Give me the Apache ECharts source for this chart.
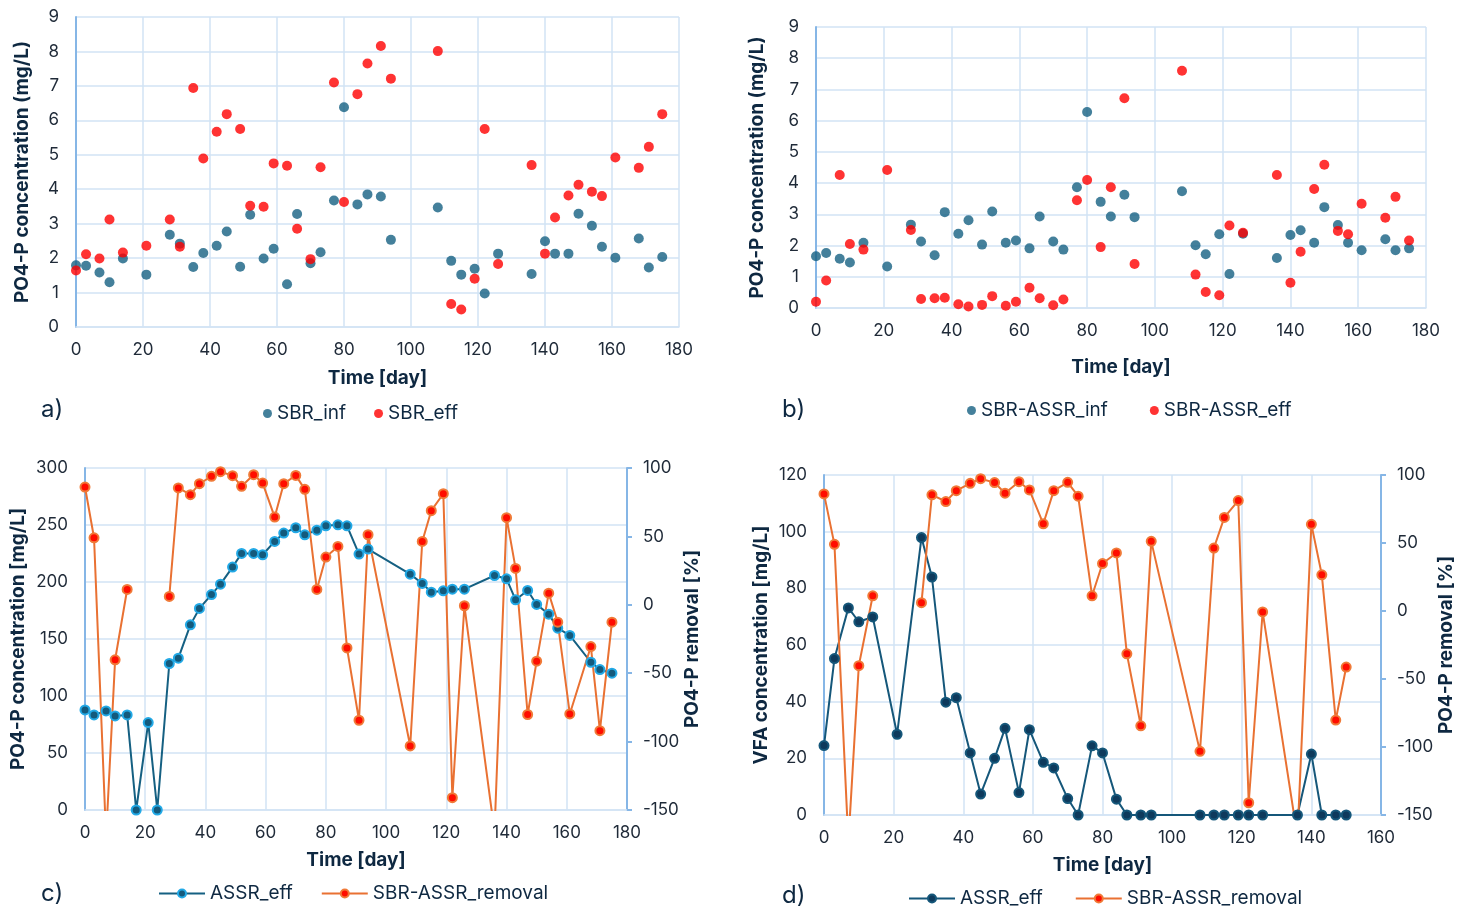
<!DOCTYPE html>
<html>
<head>
<meta charset="utf-8">
<title>PO4-P and VFA over time</title>
<script src="https://cdn.jsdelivr.net/npm/echarts@6/dist/echarts.min.js"></script>
<style>
  html, body { margin: 0; padding: 0; background: #ffffff; }
  .panel { position: absolute; left: 0; top: 0; width: 1464px; height: 906px; }
</style>
</head>
<body>
<div id="panelA" class="panel"></div>
<div id="panelB" class="panel"></div>
<div id="panelC" class="panel"></div>
<div id="panelD" class="panel"></div>
<script>
// sampling days used in a) and b)
const sampleDays = [0, 3, 7, 10, 14, 21, 28, 31, 35, 38, 42, 45, 49, 52, 56, 59, 63, 66, 70, 73,
  77, 80, 84, 87, 91, 94, 108, 112, 115, 119, 122, 126, 136, 140, 143, 147, 150, 154, 157, 161,
  168, 171, 175];
const sbrInf = [1.79, 1.78, 1.58, 1.30, 1.99, 1.52, 2.68, 2.42, 1.74, 2.15, 2.36, 2.77, 1.75, 3.26,
  1.99, 2.27, 1.24, 3.28, 1.85, 2.17, 3.67, 6.38, 3.56, 3.85, 3.79, 2.53, 3.47, 1.92, 1.52, 1.69,
  0.97, 2.13, 1.54, 2.49, 2.13, 2.13, 3.29, 2.94, 2.33, 2.01, 2.57, 1.73, 2.03];
const sbrEff = [1.64, 2.11, 1.99, 3.12, 2.16, 2.36, 3.12, 2.33, 6.94, 4.89, 5.67, 6.18, 5.75, 3.52,
  3.49, 4.75, 4.68, 2.85, 1.97, 4.64, 7.10, 3.63, 6.76, 7.65, 8.16, 7.21, 8.01, 0.67, 0.51, 1.40,
  5.75, 1.83, 4.70, 2.13, 3.18, 3.82, 4.13, 3.93, 3.80, 4.92, 4.62, 5.23, 6.18];
const sbrAssrInf = [1.66, 1.76, 1.58, 1.46, 2.09, 1.33, 2.67, 2.13, 1.69, 3.07, 2.38, 2.81, 2.03,
  3.09, 2.09, 2.16, 1.91, 2.93, 2.13, 1.87, 3.87, 6.28, 3.40, 2.93, 3.63, 2.91, 3.74, 2.01, 1.72,
  2.36, 1.09, 2.38, 1.60, 2.34, 2.49, 2.09, 3.23, 2.66, 2.09, 1.85, 2.20, 1.85, 1.91];
const sbrAssrEff = [0.20, 0.88, 4.26, 2.05, 1.87, 4.42, 2.50, 0.29, 0.31, 0.33, 0.12, 0.05, 0.10,
  0.38, 0.07, 0.20, 0.65, 0.31, 0.09, 0.27, 3.45, 4.10, 1.95, 3.87, 6.72, 1.41, 7.60, 1.07, 0.51,
  0.41, 2.64, 2.41, 4.26, 0.81, 1.80, 3.81, 4.59, 2.47, 2.36, 3.34, 2.89, 3.56, 2.16];

// c) ASSR effluent PO4-P and removal (null = no value, line is broken)
const assrDays = [0, 3, 7, 10, 14, 17, 21, 24, 28, 31, 35, 38, 42, 45, 49, 52, 56, 59, 63, 66, 70,
  73, 77, 80, 84, 87, 91, 94, 108, 112, 115, 119, 122, 126, 136, 140, 143, 147, 150, 154, 157,
  161, 168, 171, 175];
const assrPo4 = [87.8, 83.4, 86.9, 82.5, 83.4, 0, 76.7, 0, 128.5, 133.2, 162.4, 176.8, 189, 198.1,
  213.1, 225.1, 225.1, 223.9, 235.6, 242.9, 247.6, 241.4, 245.5, 249.3, 250.2, 249.3, 224.5, 228.9,
  206.9, 198.7, 191.1, 192.3, 193.7, 193.7, 205.7, 202.8, 184.4, 192.6, 180.3, 171.8, 159.5, 153.1,
  129.6, 123.2, 120];
const removal = [86.1, 49.0, -170, -40.2, 11.2, null, null, null, 6.1, 85.4, 80.5, 88.5, 93.9, 97.3,
  94.4, 86.6, 95.1, 89.0, 64.1, 88.5, 94.6, 84.4, 11.2, 34.9, 42.7, -31.5, -84.4, 51.2, -103.2,
  46.3, 68.8, 81.2, -141, -0.7, -166, 63.7, 26.6, -80.2, -41.2, 8.5, -12.7, -79.8, -30.5, -92,
  -12.7];

// d) ASSR effluent VFA
const vfaDays = [0, 3, 7, 10, 14, 21, 28, 31, 35, 38, 42, 45, 49, 52, 56, 59, 63, 66, 70, 73, 77,
  80, 84, 87, 91, 94, 108, 112, 115, 119, 122, 126, 136, 140, 143, 147, 150];
const vfaEff = [24.5, 55.2, 73.1, 68.2, 69.9, 28.5, 97.9, 84.0, 39.8, 41.4, 21.9, 7.4, 20, 30.6, 7.9,
  30.1, 18.6, 16.6, 5.8, 0, 24.4, 21.9, 5.6, 0, 0, 0, 0, 0, 0, 0, 0, 0, 0, 21.5, 0, 0, 0];

const FONT = 'Inter, "Open Sans", sans-serif';
const TEXT = '#0e2841';
const TICK = '#1f2a38';
const GRID_LINE = '#d2e3f5';
const AXIS_LINE = '#86b6e6';

function pairs(xs, ys, maxX) {
  const out = [];
  xs.forEach((x, i) => {
    if (maxX !== undefined && x > maxX) return;
    out.push([x, ys[i] === null ? '-' : ys[i]]);
  });
  return out;
}

function timeAxis(max, gap) {
  return {
    type: 'value', min: 0, max: max, interval: 20,
    name: 'Time [day]', nameLocation: 'middle', nameGap: gap,
    nameTextStyle: { fontFamily: FONT, fontSize: 19, fontWeight: 'bold', color: TEXT },
    axisLine: { onZero: false, lineStyle: { color: GRID_LINE, width: 1.5 } },
    axisTick: { show: false },
    axisLabel: { margin: 14, fontFamily: FONT, fontSize: 17, color: TICK },
    splitLine: { lineStyle: { color: GRID_LINE, width: 1.5 } }
  };
}

function valueAxis(name, min, max, interval, gap, right) {
  return {
    type: 'value', min: min, max: max, interval: interval,
    position: right ? 'right' : 'left',
    name: name, nameLocation: 'middle', nameGap: gap, nameRotate: 90,
    nameTextStyle: { fontFamily: FONT, fontSize: 19, fontWeight: 'bold', color: TEXT },
    axisLine: { show: true, lineStyle: { color: AXIS_LINE, width: 2 } },
    axisTick: { show: !!right, length: 5, lineStyle: { color: AXIS_LINE, width: 2 } },
    axisLabel: { margin: right ? 16 : 17, fontFamily: FONT, fontSize: 17, color: TICK },
    splitLine: { show: !right, lineStyle: { color: GRID_LINE, width: 1.5 } }
  };
}

function panelLabel(text, left, top) {
  return { text: text, left: left, top: top,
    textStyle: { fontFamily: FONT, fontSize: 24, fontWeight: 'normal', color: TEXT } };
}

function legend(names, left, top, gap, lines) {
  return {
    data: names, left: left, top: top, itemGap: gap,
    itemWidth: lines ? 46 : 9, itemHeight: lines ? 10 : 9,
    icon: lines ? undefined : 'circle',
    textStyle: { fontFamily: FONT, fontSize: 19, color: TEXT }
  };
}

function dots(name, xs, ys, color) {
  return { name: name, type: 'scatter', data: pairs(xs, ys), symbolSize: 10,
    itemStyle: { color: color } };
}

function trace(name, xs, ys, lineColor, fill, ring, yIndex, maxX) {
  return {
    name: name, type: 'line', yAxisIndex: yIndex, data: pairs(xs, ys, maxX),
    symbol: 'circle', symbolSize: 9, showAllSymbol: true, connectNulls: false,
    lineStyle: { color: lineColor, width: 2 },
    itemStyle: { color: fill, borderColor: ring, borderWidth: 2 }
  };
}

const BLUE = '#156082';
const RED = '#ff0000';
const ORANGE = '#e97132';

const optionA = {
  animation: false,
  title: panelLabel('a)', 36, 393),
  legend: legend(['SBR_inf', 'SBR_eff'], 258, 399, 28, false),
  grid: { left: 76, top: 17, width: 603, height: 310 },
  xAxis: timeAxis(180, 42),
  yAxis: valueAxis('PO4-P concentration (mg/L)', 0, 9, 1, 44, false),
  series: [dots('SBR_inf', sampleDays, sbrInf, BLUE), dots('SBR_eff', sampleDays, sbrEff, RED)]
};

const optionB = {
  animation: false,
  title: panelLabel('b)', 777, 393),
  legend: legend(['SBR-ASSR_inf', 'SBR-ASSR_eff'], 962, 396, 42, false),
  grid: { left: 816, top: 27, width: 610, height: 281 },
  xAxis: timeAxis(180, 50),
  yAxis: valueAxis('PO4-P concentration (mg/L)', 0, 9, 1, 49, false),
  series: [dots('SBR-ASSR_inf', sampleDays, sbrAssrInf, BLUE),
    dots('SBR-ASSR_eff', sampleDays, sbrAssrEff, RED)]
};

const optionC = {
  animation: false,
  title: panelLabel('c)', 36, 877),
  legend: legend(['ASSR_eff', 'SBR-ASSR_removal'], 153, 879, 28, true),
  grid: { left: 85, top: 468, width: 542, height: 342 },
  xAxis: timeAxis(180, 41),
  yAxis: [
    valueAxis('PO4-P concentration [mg/L]', 0, 300, 50, 57, false),
    valueAxis('PO4-P removal [%]', -150, 100, 50, 53, true)
  ],
  series: [
    trace('ASSR_eff', assrDays, assrPo4, BLUE, '#145a7c', '#22a9e6', 0),
    trace('SBR-ASSR_removal', assrDays, removal, ORANGE, '#ff0d00', '#f07a38', 1)
  ]
};

const optionD = {
  animation: false,
  title: panelLabel('d)', 777, 879),
  legend: legend(['ASSR_eff', 'SBR-ASSR_removal'], 903, 884, 32, true),
  grid: { left: 824, top: 475, width: 557, height: 340 },
  xAxis: timeAxis(160, 41),
  yAxis: [
    valueAxis('VFA concentration [mg/L]', 0, 120, 20, 53, false),
    valueAxis('PO4-P removal [%]', -150, 100, 50, 51, true)
  ],
  series: [
    trace('ASSR_eff', vfaDays, vfaEff, '#15577a', '#0e3a5c', '#15577a', 0),
    trace('SBR-ASSR_removal', assrDays, removal, ORANGE, '#ff0d00', '#f07a38', 1, 150)
  ]
};

[['panelA', optionA], ['panelB', optionB], ['panelC', optionC], ['panelD', optionD]].forEach(p => {
  const chart = echarts.init(document.getElementById(p[0]));
  chart.setOption(p[1]);
});
</script>
</body>
</html>
